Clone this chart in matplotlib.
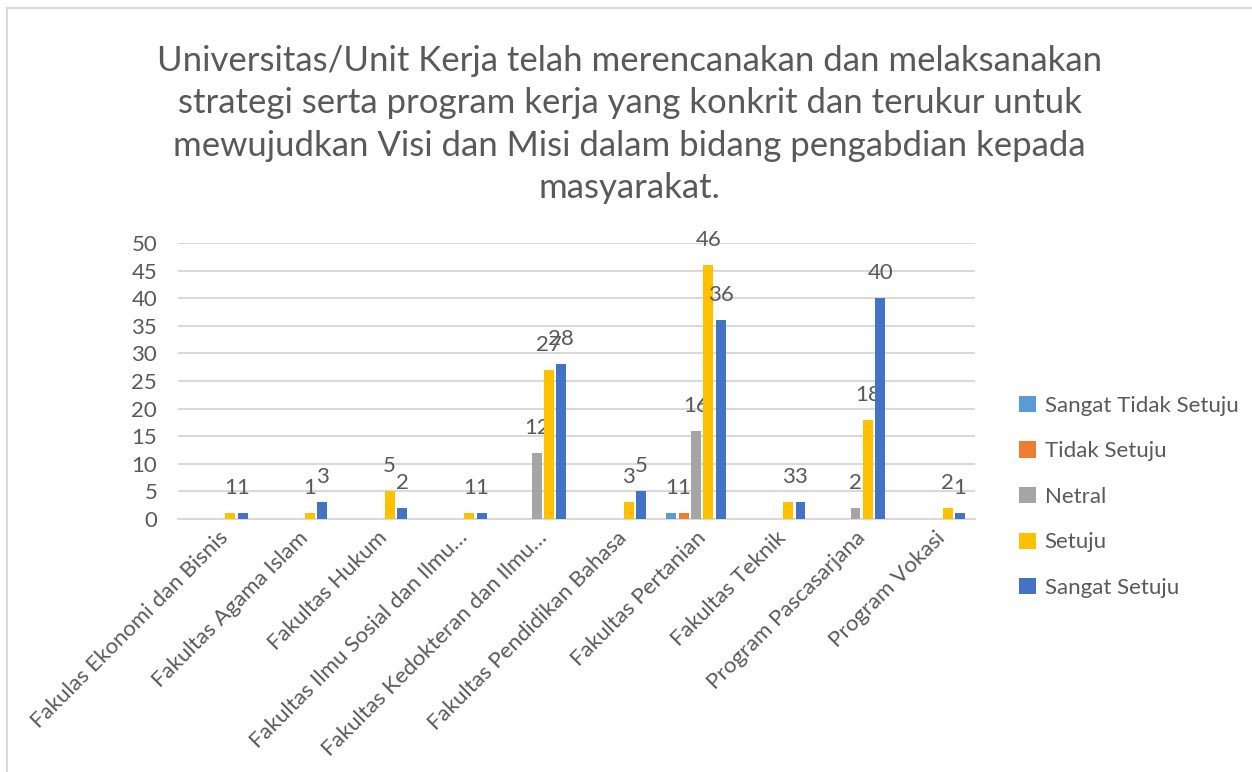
import matplotlib.pyplot as plt
import numpy as np
from matplotlib.patches import Rectangle

plt.rcParams['font.family'] = ['Lato', 'DejaVu Sans']

categories = [
    'Fakulas Ekonomi dan Bisnis',
    'Fakultas Agama Islam',
    'Fakultas Hukum',
    'Fakultas Ilmu Sosial dan Ilmu…',
    'Fakultas Kedokteran dan Ilmu…',
    'Fakultas Pendidikan Bahasa',
    'Fakultas Pertanian',
    'Fakultas Teknik',
    'Program Pascasarjana',
    'Program Vokasi',
]
series_names = ['Sangat Tidak Setuju', 'Tidak Setuju', 'Netral', 'Setuju', 'Sangat Setuju']
sangat_tidak_setuju = [0, 0, 0, 0, 0, 0, 1, 0, 0, 0]
tidak_setuju = [0, 0, 0, 0, 0, 0, 1, 0, 0, 0]
netral = [0, 0, 0, 0, 12, 0, 16, 0, 2, 0]
setuju = [1, 1, 5, 1, 27, 3, 46, 3, 18, 2]
sangat_setuju = [1, 3, 2, 1, 28, 5, 36, 3, 40, 1]
colors = ['#5b9bd5', '#ed7d31', '#a5a5a5', '#ffc000', '#4472c4']

all_series = [sangat_tidak_setuju, tidak_setuju, netral, setuju, sangat_setuju]
text_color = '#595959'

fig = plt.figure(figsize=(12.52, 7.72), dpi=100)
ax = fig.add_axes([0.1422, 0.3277, 0.6366, 0.3575])

x = np.arange(len(categories))
slot = 0.155
width = 0.125
for i, (name, vals, c) in enumerate(zip(series_names, all_series, colors)):
    pos = x + (i - 2) * slot
    vals = np.array(vals)
    ax.bar(pos, vals, width=width, color=c, label=name, zorder=3)
    for px, v in zip(pos, vals):
        if v > 0:
            ax.annotate(str(v), (px, v), xytext=(0, 18), textcoords='offset points',
                        ha='center', va='center', fontsize=16, color=text_color)

ax.set_xlim(-0.5, len(categories) - 0.5)
ax.set_ylim(0, 50)
ax.set_yticks(range(0, 51, 5))
ax.yaxis.grid(True, color='#d9d9d9', linewidth=1.5, zorder=0)
ax.set_axisbelow(True)
for s in ['top', 'right', 'left']:
    ax.spines[s].set_visible(False)
ax.spines['bottom'].set_color('#d9d9d9')
ax.spines['bottom'].set_linewidth(1.5)
ax.tick_params(axis='both', length=0, colors=text_color, labelsize=16)
ax.tick_params(axis='y', pad=15)
ax.set_xticks(x)
ax.set_xticklabels(categories, rotation=45, ha='right', rotation_mode='anchor')
ax.tick_params(axis='x', pad=6)

fig.text(0.503, 0.942,
         'Universitas/Unit Kerja telah merencanakan dan melaksanakan\n'
         'strategi serta program kerja yang konkrit dan terukur untuk\n'
         'mewujudkan Visi dan Misi dalam bidang pengabdian kepada\n'
         'masyarakat.',
         ha='center', va='top', fontsize=25, color=text_color, linespacing=1.4)

ax.legend(loc='center left', bbox_to_anchor=(1.03, 0.08), frameon=False,
          fontsize=16, labelcolor=text_color, handlelength=0.75, handleheight=0.75,
          handletextpad=0.4, labelspacing=1.15)

# chart area border
fig.patches.append(Rectangle((7 / 1252, -0.1), 1.2, 1 - 8 / 772 + 0.1,
                             transform=fig.transFigure, fill=False,
                             edgecolor='#d9d9d9', linewidth=1.5))

fig.savefig('out.png', dpi=100)
